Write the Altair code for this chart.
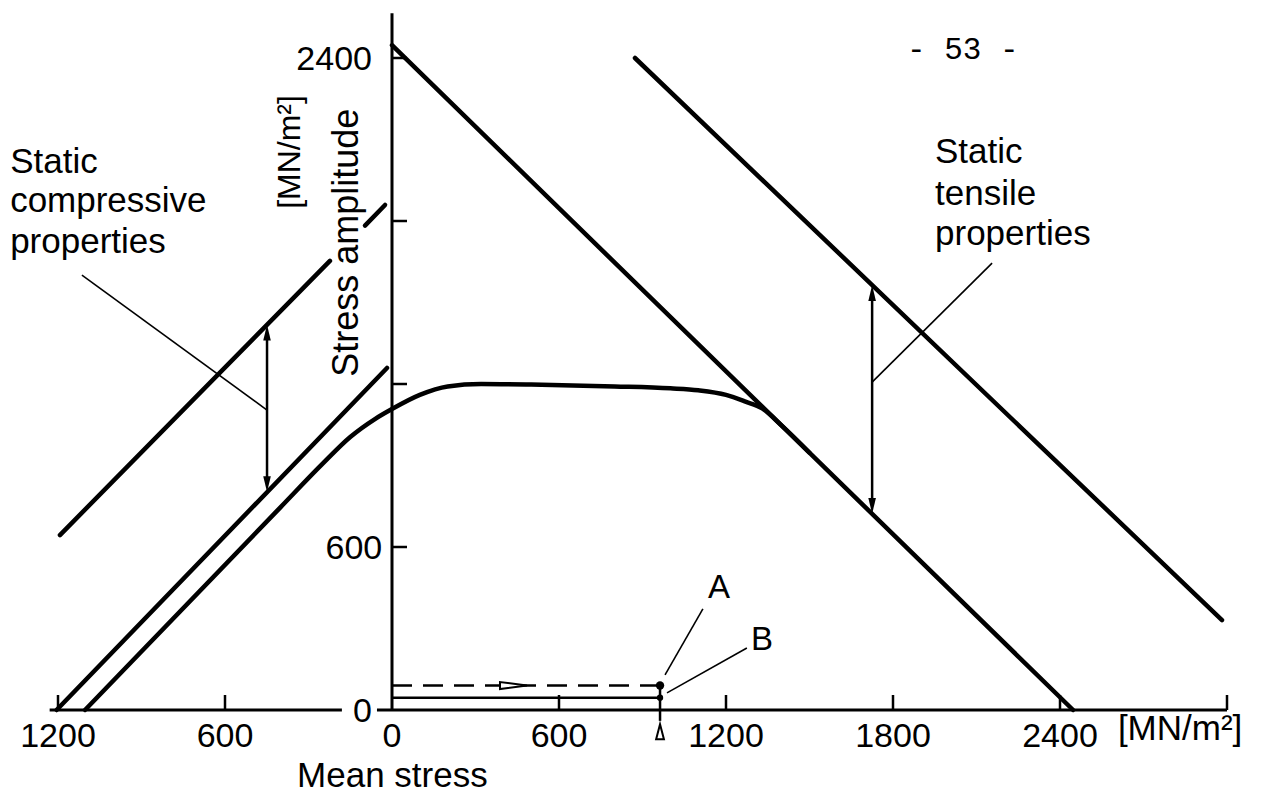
import altair as alt
import pandas as pd

# ---------------- data (all values in MN/m^2) ----------------
# static tensile lines (amplitude vs mean stress)
tensile_inner_x = [0, 2447]
tensile_inner_y = [2447, 0]
tensile_outer_x = [873, 2982]
tensile_outer_y = [2400, 331]
# static compressive lines (mean stress negative = compression)
comp_inner_x = [-1205, -18]
comp_inner_y = [0, 1259]
comp_outer_a_x = [-1193, -223]
comp_outer_a_y = [644, 1653]
comp_outer_b_x = [-97, -25]
comp_outer_b_y = [1783, 1859]
# fatigue envelope
fatigue_x = [-1103, -400, -250, -150, -60, 0, 100, 200, 320, 500, 800, 1000,
             1100, 1200, 1270, 1330, 1400, 1500]
fatigue_y = [0, 747, 906, 1005, 1072, 1108, 1160, 1191, 1200, 1198, 1191, 1184,
             1177, 1160, 1135, 1110, 1047, 947]
# load paths A (dashed) and B (solid)
load_end_x = 963
load_a_y = 90
load_b_y = 45
# double arrows between static lines
arrow_comp = {"x": -449, "y_low": 802, "y_high": 1418}
arrow_tens = {"x": 1725, "y_low": 722, "y_high": 1564}

# axis ticks / labels
x_tick_labels = [-1200, -600, 0, 600, 1200, 1800, 2400]
x_tick_marks = [-1200, -600, 600, 1200, 1800, 2400, 3000]
y_tick_labels = [0, 600, 2400]
y_tick_marks = [600, 1200, 1800, 2400]

# ---------------- layout ----------------
W, H = 1283, 803
XS = 167 / 600     # px per MN/m^2 (x)
YS = 652 / 2400    # px per MN/m^2 (y)
X0, Y0 = 392, 710  # pixel position of origin
x_dom = [-X0 / XS, (W - X0) / XS]
y_dom = [-(H - Y0) / YS, Y0 / YS]
xs = alt.Scale(domain=x_dom, nice=False, zero=False)
ys = alt.Scale(domain=y_dom, nice=False, zero=False)
TICK_X = 15 / YS   # tick length in data units
TICK_Y = 15 / XS

FONT = "Liberation Sans"


def X(f="x"):
    return alt.X(f"{f}:Q", scale=xs, axis=None)


def Y(f="y"):
    return alt.Y(f"{f}:Q", scale=ys, axis=None)


def path_df(paths):
    rows = []
    for sid, xx, yy in paths:
        for i, (a, b) in enumerate(zip(xx, yy)):
            rows.append({"id": sid, "x": a, "y": b, "o": i})
    return pd.DataFrame(rows)


def seg_df(segs):
    return pd.DataFrame([{"x": a, "y": b, "x2": c, "y2": d} for a, b, c, d in segs])


# thick static lines
static_df = path_df([
    ("ti", tensile_inner_x, tensile_inner_y),
    ("to", tensile_outer_x, tensile_outer_y),
    ("ci", comp_inner_x, comp_inner_y),
    ("coa", comp_outer_a_x, comp_outer_a_y),
    ("cob", comp_outer_b_x, comp_outer_b_y),
])
static_layer = alt.Chart(static_df).mark_line(
    color="black", strokeWidth=4.5, strokeCap="round"
).encode(x=X(), y=Y(), detail="id:N", order="o:Q")

fatigue_layer = alt.Chart(pd.DataFrame({"x": fatigue_x, "y": fatigue_y})).mark_line(
    color="black", strokeWidth=4.5, strokeCap="round", interpolate="monotone"
).encode(x=X(), y=Y(), order="x:Q")

# axes
axis_segs = [(-1230, 0, -180, 0), (-54, 0, 3000, 0), (0, 0, 0, 2565)]
axis_layer = alt.Chart(seg_df(axis_segs)).mark_rule(color="black", strokeWidth=3).encode(
    x=X(), y=Y(), x2="x2:Q", y2="y2:Q")

tick_segs = [(v, 0, v, TICK_X) for v in x_tick_marks] + [(0, v, TICK_Y, v) for v in y_tick_marks]
tick_layer = alt.Chart(seg_df(tick_segs)).mark_rule(color="black", strokeWidth=2.5).encode(
    x=X(), y=Y(), x2="x2:Q", y2="y2:Q")

# leaders (thin)
leader_segs = [(-1114, 1601, arrow_comp["x"], 1104),
               (2156, 1645, arrow_tens["x"], 1207),
               (981, 129, 1117, 372),
               (988, 63, 1275, 228)]
leader_layer = alt.Chart(seg_df(leader_segs)).mark_rule(color="black", strokeWidth=1.6).encode(
    x=X(), y=Y(), x2="x2:Q", y2="y2:Q")

# double-arrow shafts and load-path vertical
shaft_segs = [(arrow_comp["x"], arrow_comp["y_low"] + 40, arrow_comp["x"], arrow_comp["y_high"] - 40),
              (arrow_tens["x"], arrow_tens["y_low"] + 40, arrow_tens["x"], arrow_tens["y_high"] - 40),
              (load_end_x, load_a_y, load_end_x, -40)]
shaft_layer = alt.Chart(seg_df(shaft_segs)).mark_rule(color="black", strokeWidth=2.5).encode(
    x=X(), y=Y(), x2="x2:Q", y2="y2:Q")

dashed_layer = alt.Chart(seg_df([(0, load_a_y, load_end_x, load_a_y)])).mark_rule(
    color="black", strokeWidth=2.5, strokeDash=[20, 11]).encode(x=X(), y=Y(), x2="x2:Q", y2="y2:Q")
solid_layer = alt.Chart(seg_df([(0, load_b_y, load_end_x, load_b_y)])).mark_rule(
    color="black", strokeWidth=2.5).encode(x=X(), y=Y(), x2="x2:Q", y2="y2:Q")

# arrow heads
up_head = "M0,0 L0.24,1 L-0.24,1 Z"
down_head = "M0,0 L0.24,-1 L-0.24,-1 Z"
up_df = pd.DataFrame({"x": [arrow_comp["x"], arrow_tens["x"]],
                      "y": [arrow_comp["y_high"], arrow_tens["y_high"]]})
down_df = pd.DataFrame({"x": [arrow_comp["x"], arrow_tens["x"]],
                        "y": [arrow_comp["y_low"], arrow_tens["y_low"]]})
up_layer = alt.Chart(up_df).mark_point(shape=up_head, size=1000, filled=True, color="black",
                                       opacity=1).encode(x=X(), y=Y())
down_layer = alt.Chart(down_df).mark_point(shape=down_head, size=1000, filled=True, color="black",
                                           opacity=1).encode(x=X(), y=Y())

right_head = "M0,0 L-1,-0.13 L-1,0.13 Z"
open_arrow_layer = alt.Chart(pd.DataFrame({"x": [485], "y": [load_a_y]})).mark_point(
    shape=right_head, size=2916, filled=True, fill="white", stroke="black", strokeWidth=2,
    opacity=1).encode(x=X(), y=Y())

drop_layer = alt.Chart(pd.DataFrame({"x": [load_end_x], "y": [-52]})).mark_point(
    shape="M0,0 L0.26,1 L-0.26,1 Z", size=900, filled=True, fill="white", stroke="black",
    strokeWidth=2, opacity=1).encode(x=X(), y=Y())

pts_layer = alt.Chart(pd.DataFrame({"x": [load_end_x, load_end_x], "y": [load_a_y, load_b_y],
                                    "s": [70, 40]})).mark_circle(color="black", opacity=1).encode(
    x=X(), y=Y(), size=alt.Size("s:Q", scale=None))

# ---------------- text ----------------
xlab_df = pd.DataFrame({"x": x_tick_labels, "y": [-136] * len(x_tick_labels),
                        "t": [str(abs(v)) for v in x_tick_labels]})
xlab_layer = alt.Chart(xlab_df).mark_text(font=FONT, fontSize=34, align="center",
                                          baseline="alphabetic").encode(x=X(), y=Y(), text="t:N")

ylab_df = pd.DataFrame({"x": [-72, -35, -72], "y": y_tick_labels,
                        "t": [str(v) for v in y_tick_labels]})
ylab_layer = alt.Chart(ylab_df).mark_text(font=FONT, fontSize=34, align="right",
                                          baseline="alphabetic", dy=12).encode(x=X(), y=Y(), text="t:N")

left_text = pd.DataFrame({
    "x": [-1372, -1372, -1372, 1951, 1951, 1951, -341, 2608],
    "y": [1977, 1833, 1682, 2013, 1859, 1712, -283, -110],
    "t": ["Static", "compressive", "properties", "Static", "tensile", "properties",
          "Mean stress", "[MN/m²]"],
})
left_layer = alt.Chart(left_text).mark_text(font=FONT, fontSize=35, align="left",
                                            baseline="alphabetic").encode(x=X(), y=Y(), text="t:N")

ab_df = pd.DataFrame({"x": [1175, 1329], "y": [412, 221], "t": ["A", "B"]})
ab_layer = alt.Chart(ab_df).mark_text(font=FONT, fontSize=33, align="center",
                                      baseline="alphabetic").encode(x=X(), y=Y(), text="t:N")

page_layer = alt.Chart(pd.DataFrame({"x": [2051], "y": [2396], "t": ["- 53 -"]})).mark_text(
    font="Liberation Mono", fontSize=31, align="center", baseline="alphabetic").encode(
    x=X(), y=Y(), text="t:N")

ytitle_df = pd.DataFrame({"x": [-122, -330], "y": [1720, 2054], "t": ["Stress amplitude", "[MN/m²]"],
                          "s": [36, 32]})
ytitle_layer = alt.Chart(ytitle_df).mark_text(font=FONT, angle=270, align="center",
                                              baseline="alphabetic").encode(
    x=X(), y=Y(), text="t:N", size=alt.Size("s:Q", scale=None))

chart = alt.layer(
    axis_layer, tick_layer, static_layer, fatigue_layer, leader_layer, shaft_layer,
    dashed_layer, solid_layer, open_arrow_layer, up_layer, down_layer, drop_layer, pts_layer,
    xlab_layer, ylab_layer, left_layer, ab_layer, page_layer, ytitle_layer,
).properties(
    width=W, height=H, padding=0, autosize=alt.AutoSizeParams(type="none"),
    background="white",
).configure_view(stroke=None)

chart.save("out.html", embed_options={"renderer": "svg", "actions": False})
